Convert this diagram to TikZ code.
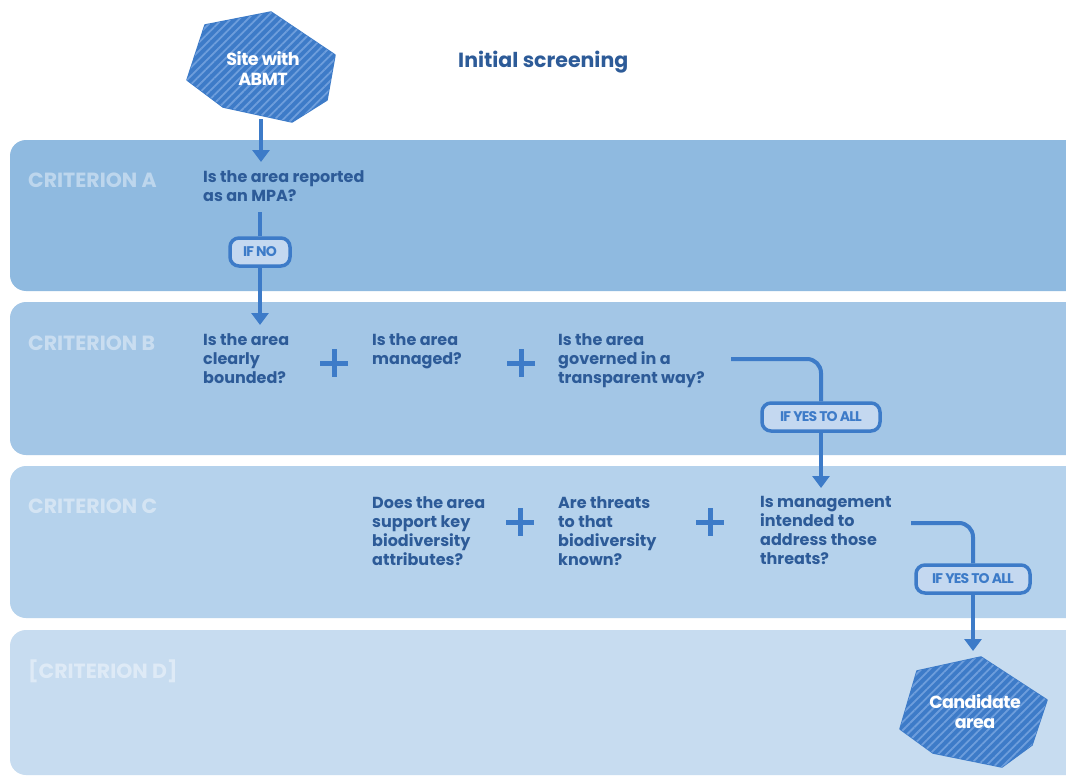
\documentclass[tikz,border=0pt]{standalone}
\usepackage{fontspec}
\setmainfont{Poppins}
\usetikzlibrary{arrows.meta,patterns.meta}
\definecolor{bandA}{HTML}{8FBAE0}
\definecolor{bandB}{HTML}{A3C6E6}
\definecolor{bandC}{HTML}{B5D2EC}
\definecolor{bandD}{HTML}{C7DCF0}
\definecolor{txtblue}{HTML}{2D5B98}
\definecolor{midblue}{HTML}{3D7BC8}
\definecolor{hatch}{HTML}{6E9EDC}
\definecolor{badgefill}{HTML}{C4D8F0}
\begin{document}
\begin{tikzpicture}[x=1pt,y=-1pt,
  band/.style={rounded corners=16pt},
  crit/.style={anchor=base west, inner sep=0pt, text=white, text opacity=0.42, font=\bfseries\fontsize{20.5}{24}\selectfont},
  quest/.style={anchor=north west, inner sep=0pt, align=left, text=txtblue, font=\bfseries\fontsize{16}{19}\selectfont},
  badge/.style={draw=midblue, line width=3.5pt, fill=badgefill, rounded corners=9pt, minimum height=28pt, inner xsep=4pt, inner ysep=0pt, text=midblue, font=\bfseries\fontsize{14}{15}\selectfont\addfontfeatures{LetterSpace=-6}},
  conn/.style={draw=midblue, line width=4pt},
  arr/.style={conn, -{Triangle[width=17pt,length=12pt]}},
  plusmark/.style={draw=midblue, line width=5pt},
  hatched/.style={draw=midblue, line width=1.5pt, line join=round, fill=midblue, postaction={pattern={Lines[angle=45,distance=6pt,line width=1.8pt]}, pattern color=hatch}},
  shapetext/.style={align=center, text=white, inner sep=0pt, font=\bfseries\fontsize{17.5}{20}\selectfont\addfontfeatures{LetterSpace=-3}}
]
\useasboundingbox (0,0) rectangle (1066,776);
\fill[white] (0,0) rectangle (1066,776);
\begin{scope}
\clip (0,0) rectangle (1066,776);
\fill[bandA,band] (10,140) rectangle (1090,291);
\fill[bandB,band] (10,302) rectangle (1090,455);
\fill[bandC,band] (10,466) rectangle (1090,618);
\fill[bandD,band] (10,630) rectangle (1090,775);
\end{scope}

% criterion labels
\node[crit] (critA) at (28,187) {CRITERION A};
\node[crit] (critB) at (28,350) {CRITERION B};
\node[crit] (critC) at (28,513) {CRITERION C};
\node[crit] (critD) at (28,678) {[CRITERION D]};

% title
\node[text=txtblue, font=\bfseries\fontsize{20.5}{22}\selectfont, inner sep=0pt, anchor=base west] (title) at (458,68) {Initial screening};

% start shape
\path[hatched] (205,25) -- (271,12) -- (335,55) -- (327,100) -- (292,122) -- (223,107) -- (187,80) -- cycle;
\node[shapetext] (site) at (263,68) {Site with\\ABMT};
\coordinate (siteb) at (261,119);
\coordinate (tipA) at (261,162);
\draw[arr] (siteb) -- (tipA);

% criterion A
\node[quest] (qA) at (203,170) {Is the area reported\\as an MPA?};
\node[badge, minimum width=60pt] (ifno) at (260,252) {IF NO};
\coordinate (aStart) at (260,212);
\coordinate (tipB) at (260,325);
\draw[conn] (aStart) -- (ifno.north);
\draw[arr] (ifno.south) -- (tipB);

% criterion B
\node[quest] (qB1) at (203,333) {Is the area\\clearly\\bounded?};
\node[quest] (qB2) at (372,333) {Is the area\\managed?};
\node[quest] (qB3) at (558,333) {Is the area\\governed in a\\transparent way?};
\draw[plusmark] (320,363) -- (348,363) (334,349) -- (334,377);
\draw[plusmark] (507,363) -- (535,363) (521,349) -- (521,377);
\node[badge, minimum width=118pt] (ifyes1) at (821,417) {IF YES TO ALL};
\coordinate (bStart) at (731,359);
\coordinate (tipC) at (821,488);
\draw[conn, rounded corners=14pt] (bStart) -| (ifyes1.north);
\draw[arr] (ifyes1.south) -- (tipC);

% criterion C
\node[quest] (qC1) at (372,496) {Does the area\\support key\\biodiversity\\attributes?};
\node[quest] (qC2) at (558,496) {Are threats\\to that\\biodiversity\\known?};
\node[quest] (qC3) at (760,496) {Is management\\intended to\\address those\\threats?};
\draw[plusmark] (506,522) -- (534,522) (520,508) -- (520,536);
\draw[plusmark] (696,522) -- (724,522) (710,508) -- (710,536);
\node[badge, minimum width=114pt] (ifyes2) at (973,579) {IF YES TO ALL};
\coordinate (cStart) at (911,523);
\coordinate (tipD) at (973,651);
\draw[conn, rounded corners=14pt] (cStart) -| (ifyes2.north);
\draw[arr] (ifyes2.south) -- (tipD);

% end shape
\path[hatched] (917,671) -- (981,657) -- (1047,700) -- (1032,745) -- (1002,767) -- (933,753) -- (900,729) -- cycle;
\node[shapetext] (cand) at (975,712) {Candidate\\area};
\end{tikzpicture}
\end{document}
